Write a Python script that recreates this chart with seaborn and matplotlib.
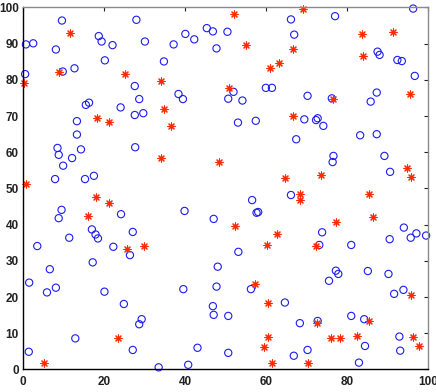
import matplotlib
matplotlib.use("Agg")
import matplotlib.pyplot as plt
import seaborn as sns
import pandas as pd

circle_x = [9.6, 0.7, 2.5, 8.1, 28.0, 18.7, 19.4, 22.1, 30.1, 20.2, 12.7, 9.8, 0.5, 27.6, 28.7,
            15.5, 16.3, 24.1, 27.6, 29.7, 13.3, 37.2, 40.1, 42.3, 45.4, 46.9, 50.5, 47.8, 34.8,
            38.4, 39.5, 50.7, 52.0, 54.2, 60.0, 61.5, 53.1, 57.5, 66.2, 77.1, 67.0, 96.4, 87.6,
            88.1, 92.5, 93.6, 96.8, 70.3, 76.3, 87.4, 85.9, 69.5, 72.4, 72.8, 74.2, 13.3, 8.5,
            8.8, 14.3, 12.1, 9.9, 27.7, 7.9, 15.3, 17.5, 9.5, 8.8, 24.2, 27.1, 17.0, 17.9, 18.5,
            11.4, 3.5, 22.3, 56.6, 57.7, 58.1, 39.9, 47.1, 66.2, 53.2, 67.5, 83.3, 87.4, 76.7,
            76.5, 89.3, 90.7, 73.9, 94.1, 97.2, 95.8, 99.6, 90.6, 73.2, 81.1, 26.4, 17.2, 6.6,
            1.5, 5.9, 8.1, 20.1, 24.9, 29.3, 28.7, 12.9, 27.1, 1.4, 48.1, 39.6, 47.8, 56.3, 64.7,
            46.9, 47.1, 50.7, 43.1, 50.7, 40.8, 33.5, 77.3, 77.9, 75.6, 85.2, 90.3, 91.7, 94.0,
            68.4, 72.8, 81.1, 84.3, 93.0, 70.3, 66.9, 84.5, 93.2, 83.0]
circle_y = [96.4, 89.8, 90.1, 88.4, 96.6, 92.1, 90.6, 89.6, 90.6, 85.4, 83.2, 82.3, 81.6, 78.3, 74.7,
            73.1, 73.7, 72.4, 70.3, 70.8, 68.6, 89.8, 92.7, 91.2, 94.3, 93.4, 93.3, 88.7, 85.1,
            76.1, 74.7, 74.8, 76.7, 74.3, 77.8, 77.8, 68.2, 68.7, 96.7, 97.6, 92.5, 99.7, 87.8,
            86.9, 85.5, 85.2, 81.1, 75.6, 74.9, 76.5, 74.0, 69.1, 68.9, 69.4, 67.3, 64.9, 61.2,
            59.3, 60.8, 58.4, 56.3, 61.4, 52.6, 52.6, 53.5, 44.1, 41.8, 42.9, 38.0, 38.7, 37.3, 36.2,
            36.4, 34.1, 33.9, 46.8, 43.3, 43.5, 43.8, 41.6, 48.2, 32.5, 63.6, 64.7, 65.0, 59.0,
            57.3, 59.0, 54.6, 37.9, 39.2, 37.6, 36.4, 37.0, 36.0, 34.4, 34.4, 31.6, 29.6, 27.7,
            24.0, 21.3, 22.6, 21.5, 18.1, 13.9, 12.5, 8.6, 5.4, 4.9, 28.4, 22.2, 22.9, 22.2, 18.5,
            17.5, 15.1, 14.8, 6.0, 4.6, 1.3, 0.6, 27.3, 26.4, 24.5, 27.2, 26.4, 20.9, 22.0,
            12.8, 13.4, 14.8, 13.9, 9.1, 5.4, 3.8, 6.5, 5.2, 1.9]

star_x = [11.6, 8.9, 25.1, 0.2, 18.3, 21.2, 52.0, 55.1, 60.9, 63.3, 34.0, 51.0, 34.9, 36.5, 66.6,
          69.1, 83.7, 91.4, 66.6, 83.9, 95.6, 76.7, 0.7, 17.9, 21.2, 16.0, 25.8, 29.9, 34.1, 48.4,
          64.7, 52.4, 62.7, 60.3, 73.6, 94.8, 95.9, 68.5, 68.5, 85.6, 86.5, 77.4, 72.3, 23.5, 5.1,
          57.3, 60.5, 60.5, 59.6, 61.6, 95.9, 72.6, 85.6, 76.1, 78.2, 82.5, 96.4, 97.8, 70.3]
star_y = [92.9, 82.3, 81.6, 79.1, 69.4, 68.5, 98.1, 89.6, 83.2, 84.8, 79.6, 77.7, 72.0, 67.2, 70.0,
          99.7, 92.7, 93.3, 88.5, 86.7, 76.0, 74.8, 51.2, 47.7, 45.9, 42.3, 33.3, 34.1, 58.4, 57.4,
          52.8, 39.6, 37.4, 34.4, 53.7, 55.7, 53.3, 48.6, 46.8, 48.5, 42.1, 40.7, 34.1, 8.6, 1.9,
          23.6, 18.3, 9.1, 6.1, 1.7, 20.6, 12.9, 13.4, 8.6, 8.6, 9.3, 8.9, 6.6, 1.9]

x_ticks = [0, 20, 40, 60, 80, 100]
y_ticks = [0, 10, 20, 30, 40, 50, 60, 70, 80, 90, 100]

circles = pd.DataFrame({"x": circle_x, "y": circle_y})
stars = pd.DataFrame({"x": star_x, "y": star_y})

sns.set_style("white")
plt.rcParams["font.family"] = ["Liberation Sans", "DejaVu Sans"]

fig = plt.figure(figsize=(4.36, 3.92), dpi=100)
ax = fig.add_axes([0.053, 0.0574, 0.928, 0.9235])

sns.scatterplot(data=circles, x="x", y="y", ax=ax, marker="o", s=27,
                facecolor="none", edgecolor="#1c1cf0", linewidth=0.8, clip_on=False)
sns.scatterplot(data=stars, x="x", y="y", ax=ax, marker=(8, 2, 0), s=26,
                color="#ff2a00", linewidth=0.8, clip_on=False)

ax.set_xlim(0, 100)
ax.set_ylim(0, 100)
ax.set_xticks(x_ticks)
ax.set_yticks(y_ticks)
ax.set_xlabel("")
ax.set_ylabel("")
ax.tick_params(axis="both", direction="in", length=3, width=0.8, top=True, right=True,
               labelsize=8.5, colors="#222222")
ax.tick_params(axis="x", pad=5)
ax.tick_params(axis="y", pad=3)
for lab in ax.get_xticklabels() + ax.get_yticklabels():
    lab.set_fontweight("bold")
for side in ["left", "bottom"]:
    ax.spines[side].set_color("black")
    ax.spines[side].set_linewidth(1.0)
for side in ["top", "right"]:
    ax.spines[side].set_color("#8a8a8a")
    ax.spines[side].set_linewidth(1.0)

fig.savefig("out.png", dpi=100)
